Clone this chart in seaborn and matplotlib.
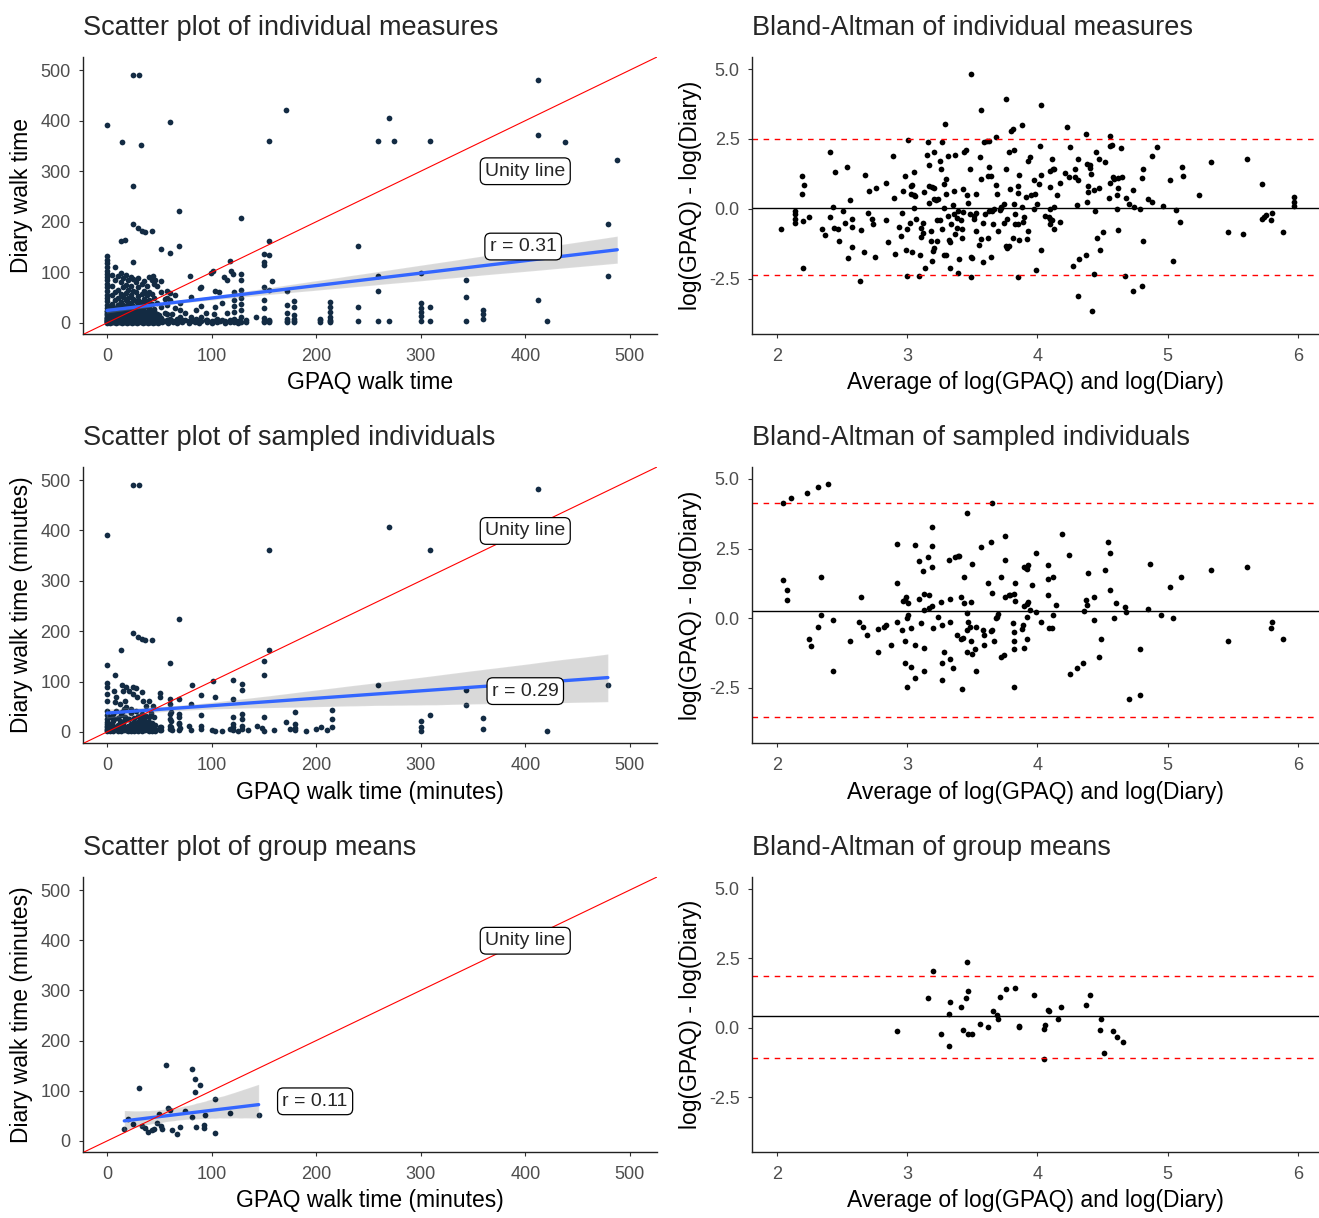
import pandas as pd
import matplotlib
matplotlib.use("Agg")
import matplotlib.pyplot as plt
import seaborn as sns
from matplotlib.ticker import FormatStrFormatter

sns.set_theme(style="ticks")
plt.rcParams['font.family'] = ['Liberation Sans', 'DejaVu Sans']
plt.rcParams['axes.unicode_minus'] = False

# =========================================================
# DATA
# =========================================================
# scatter: (GPAQ walk time, Diary walk time)
scat_ind = [
    (0, 392), (14, 357), (25, 490), (31, 490), (32, 351), (25, 271), (25, 196), (30, 187),
    (33, 182), (36, 180), (43, 182), (13, 162), (17, 164), (25, 121), (52, 147), (60, 138),
    (69, 153), (69, 221), (60, 398), (128, 207), (155, 360), (155, 162), (171, 421), (259, 360),
    (270, 406), (274, 360), (309, 360), (412, 481), (412, 371), (438, 357), (488, 323), (479, 196),
    (479, 92), (412, 46), (421, 3), (240, 153),
    (118, 122), (119, 102), (120, 96), (121, 61), (121, 45), (121, 34), (121, 22), (121, 8), (121, 1),
    (128, 96), (128, 84), (128, 66), (128, 50), (128, 38), (128, 25), (128, 12), (128, 2),
    (150, 137), (150, 120), (150, 114), (150, 71), (150, 45), (150, 30), (150, 1), (155, 135),
    (155, 66), (155, 3), (158, 82), (142, 11),
    (172, 64), (172, 36), (172, 20), (172, 3), (179, 44), (179, 31), (179, 16), (179, 3), (204, 8),
    (213, 41), (213, 31), (213, 21), (213, 11), (213, 3), (240, 32), (240, 3), (259, 92), (259, 63),
    (259, 3), (270, 3), (300, 98), (300, 40), (300, 30), (300, 22), (300, 13), (300, 3), (309, 32),
    (309, 3), (343, 84), (343, 52), (343, 3), (360, 26), (360, 17), (360, 7),
    (79, 92), (89, 69), (99, 99), (101, 102), (103, 64), (103, 32), (107, 61), (112, 91), (115, 84),
    (80, 52), (90, 71), (90, 33), (102, 18), (102, 3), (90, 12), (90, 3), (80, 12), (80, 3), (70, 40),
    (70, 25), (70, 12), (70, 3), (65, 55), (65, 30), (62, 18), (62, 3), (60, 60), (60, 45), (60, 8),
    (75, 20), (75, 5), (85, 25), (85, 8), (95, 20), (95, 5), (110, 5), (110, 40), (115, 20), (108, 3),
    (44, 92), (46, 85), (52, 82), (57, 64), (57, 50), (57, 35), (57, 18), (57, 6),
    (0, 132), (0, 125), (0, 118), (0, 110), (0, 103), (0, 96), (0, 90), (0, 84), (0, 77), (0, 70),
    (0, 63), (0, 56), (0, 50), (0, 43), (0, 36), (0, 30), (0, 23), (0, 17), (0, 10), (0, 4),
    (5, 95), (5, 72), (5, 55), (5, 38), (5, 22), (5, 8), (4, 2),
    (8, 110), (8, 84), (8, 61), (8, 45), (8, 30), (8, 15), (8, 1),
    (10, 92), (10, 66), (10, 50), (10, 35), (10, 20), (10, 5),
    (13, 98), (13, 80), (13, 58), (13, 42), (13, 27), (13, 12), (13, 2),
    (15, 88), (15, 70), (15, 52), (15, 36), (15, 18), (15, 6),
    (18, 94), (18, 75), (18, 60), (18, 45), (18, 30), (18, 14), (18, 1),
    (20, 84), (20, 66), (20, 50), (20, 34), (20, 22), (20, 9),
    (23, 90), (23, 72), (23, 56), (23, 40), (23, 26), (23, 12), (23, 3),
    (25, 86), (25, 64), (25, 48), (25, 30), (25, 18), (25, 5),
    (28, 80), (28, 62), (28, 44), (28, 28), (28, 14), (28, 2),
    (30, 88), (30, 70), (30, 54), (30, 38), (30, 24), (30, 8),
    (33, 76), (33, 58), (33, 42), (33, 26), (33, 12), (33, 1),
    (35, 82), (35, 64), (35, 48), (35, 32), (35, 18), (35, 5),
    (38, 72), (38, 55), (38, 40), (38, 22), (38, 10),
    (40, 90), (40, 62), (40, 46), (40, 30), (40, 15), (40, 2),
    (43, 84), (43, 58), (43, 38), (43, 20), (43, 6),
    (45, 76), (45, 50), (45, 28), (45, 12), (45, 1),
    (48, 72), (48, 40), (48, 18), (48, 3), (52, 62), (52, 32), (52, 10), (55, 48), (55, 20), (55, 3),
]

# the heavily overplotted low corner of the individual-measures scatter
scat_ind_low = [
    (0, 1), (0, 3), (0, 6), (0, 9), (0, 12), (0, 15), (0, 19), (0, 24),
    (2, 2), (2, 5), (2, 8), (2, 12), (2, 16), (2, 20), (2, 28),
    (5, 1), (5, 4), (5, 7), (5, 10), (5, 14), (5, 18), (5, 25), (5, 32),
    (7, 2), (7, 6), (7, 9), (7, 13), (7, 17), (7, 22),
    (10, 1), (10, 3), (10, 8), (10, 11), (10, 15), (10, 19), (10, 26), (10, 36),
    (12, 2), (12, 5), (12, 10), (12, 14), (12, 18), (12, 24),
    (15, 1), (15, 4), (15, 7), (15, 12), (15, 16), (15, 22), (15, 30),
    (17, 2), (17, 6), (17, 9), (17, 13), (17, 19), (17, 26),
    (20, 1), (20, 3), (20, 6), (20, 11), (20, 15), (20, 19), (20, 25), (20, 40),
    (22, 2), (22, 5), (22, 10), (22, 14), (22, 18), (22, 28),
    (25, 1), (25, 4), (25, 8), (25, 11), (25, 16), (25, 22), (25, 34),
    (27, 2), (27, 6), (27, 9), (27, 13), (27, 20), (27, 26),
    (30, 1), (30, 3), (30, 7), (30, 11), (30, 15), (30, 19), (30, 30), (30, 45),
    (32, 2), (32, 5), (32, 10), (32, 16), (32, 21),
    (35, 1), (35, 4), (35, 8), (35, 12), (35, 15), (35, 24), (35, 36),
    (37, 2), (37, 6), (37, 10), (37, 14), (37, 19),
    (40, 1), (40, 4), (40, 8), (40, 11), (40, 17), (40, 26),
    (42, 2), (42, 6), (42, 9), (42, 13), (42, 20),
    (45, 1), (45, 4), (45, 7), (45, 10), (45, 16), (45, 24),
    (47, 2), (47, 6), (47, 12), (47, 18), (50, 1), (50, 5), (50, 9), (50, 15),
]

# points sitting on the floor (diary close to zero), hidden under each other
scat_ind_floor = [
    (0, 0), (0, 2), (0, 5), (0, 8), (3, 0), (3, 3), (3, 6), (3, 10), (6, 1), (6, 4), (6, 7), (6, 11),
    (9, 0), (9, 2), (9, 6), (9, 9), (11, 1), (11, 3), (11, 5), (11, 8), (11, 12),
    (14, 0), (14, 2), (14, 4), (14, 7), (14, 10), (16, 1), (16, 3), (16, 6), (16, 9),
    (19, 0), (19, 2), (19, 5), (19, 8), (19, 11), (21, 1), (21, 4), (21, 7), (21, 10),
    (24, 0), (24, 2), (24, 3), (24, 6), (24, 9), (26, 1), (26, 4), (26, 7), (26, 12),
    (29, 0), (29, 2), (29, 5), (29, 8), (29, 10), (31, 1), (31, 3), (31, 6), (31, 9),
    (34, 0), (34, 2), (34, 4), (34, 7), (34, 11), (36, 1), (36, 3), (36, 5), (36, 8),
    (39, 0), (39, 2), (39, 6), (39, 9), (41, 1), (41, 4), (41, 7), (41, 10),
    (44, 0), (44, 2), (44, 5), (44, 8), (46, 1), (46, 3), (46, 6), (46, 11),
    (49, 0), (49, 2), (49, 4), (49, 7), (53, 1), (53, 3), (53, 6), (58, 0), (58, 2), (58, 5),
    (63, 1), (63, 4), (67, 0), (67, 3), (67, 7), (72, 1), (72, 5), (78, 0), (78, 4),
    (84, 1), (84, 6), (88, 0), (88, 3), (96, 1), (96, 5), (100, 0), (100, 4), (105, 1), (105, 7),
    (113, 0), (113, 3), (118, 1), (118, 5), (125, 0), (125, 4), (133, 2), (133, 6),
    (150, 4), (150, 9), (155, 1), (155, 6), (172, 1), (172, 8), (179, 1), (179, 7),
    (204, 2), (204, 5), (213, 1), (213, 6),
]

scat_samp = [
    (0, 390), (25, 490), (31, 490), (13, 163), (25, 197), (30, 189), (33, 184), (36, 182), (43, 183),
    (8, 114), (0, 132), (60, 137), (69, 224), (155, 361), (155, 163), (150, 140), (150, 114), (270, 407),
    (309, 361), (412, 482), (479, 93), (421, 2), (360, 28), (360, 5), (343, 84), (343, 54), (309, 33),
    (300, 22), (300, 10), (300, 2), (259, 93), (215, 43), (215, 26), (205, 9), (180, 39), (180, 15),
    (180, 3), (171, 20), (143, 12), (150, 30), (129, 96), (129, 84), (129, 36), (129, 26), (129, 12),
    (120, 103), (120, 66), (120, 30), (120, 16), (120, 3), (103, 69), (103, 2), (101, 102), (90, 74),
    (90, 33), (90, 12), (81, 93), (80, 56), (78, 12), (69, 65), (69, 36), (69, 18), (69, 3),
    (60, 66), (60, 56), (60, 36), (60, 26), (60, 12), (62, 3), (51, 78), (51, 70), (51, 10), (51, 3),
    (0, 97), (0, 89), (0, 75), (0, 62), (0, 42), (0, 34), (0, 26), (0, 16), (0, 9), (0, 3),
    (7, 82), (9, 70), (8, 59), (14, 93), (15, 82), (12, 56), (18, 89), (21, 82), (25, 89), (28, 87),
    (25, 75), (29, 70), (33, 79), (34, 62), (40, 62), (44, 52), (37, 52), (17, 62), (9, 42), (14, 39),
    (18, 49), (23, 46), (28, 42), (33, 36), (37, 32), (42, 37), (45, 29), (7, 26), (12, 22), (17, 29),
    (21, 26), (26, 19), (31, 22), (36, 16), (40, 19), (4, 13), (9, 9), (15, 13), (20, 8), (25, 13),
    (29, 6), (34, 9), (39, 4), (44, 9), (6, 3), (12, 3), (18, 3), (23, 3), (28, 3), (34, 3),
    (52, 9), (52, 3), (61, 40), (61, 22), (61, 9), (69, 30), (69, 15),
]

scat_samp_low = [
    (0, 1), (0, 5), (0, 12), (0, 20), (3, 2), (3, 8), (3, 15), (3, 30),
    (6, 1), (6, 6), (6, 11), (6, 22), (6, 35), (10, 2), (10, 5), (10, 14), (10, 28),
    (13, 1), (13, 7), (13, 18), (13, 33), (16, 3), (16, 9), (16, 21), (16, 45),
    (20, 1), (20, 5), (20, 12), (20, 25), (23, 2), (23, 8), (23, 16), (23, 38),
    (26, 1), (26, 6), (26, 13), (26, 28), (30, 2), (30, 9), (30, 19), (30, 32),
    (33, 1), (33, 5), (33, 15), (33, 26), (36, 3), (36, 8), (36, 22),
    (40, 1), (40, 6), (40, 12), (40, 30), (43, 2), (43, 9), (43, 18), (46, 1), (46, 5), (46, 14),
]

# overplotted floor points at mid GPAQ values in the sampled scatter
scat_samp_mid = [
    (118, 6), (120, 9), (125, 2), (129, 5), (135, 3), (148, 8), (150, 2), (160, 4), (175, 6),
    (180, 8), (190, 2), (200, 5), (210, 3), (215, 10), (60, 5), (70, 8), (80, 3), (90, 6),
    (100, 4), (110, 2),
]

scat_grp = [
    (16.5, 24), (20, 44), (25, 34), (31, 105), (33, 30), (36, 26), (39, 18), (43, 22), (45, 24),
    (48, 36), (50, 53), (52, 30), (53, 24), (56, 152), (58, 65), (60, 61), (62, 22), (67, 13),
    (70, 28), (75, 59), (81, 48), (81, 143), (84, 124), (85, 28), (89, 111), (84, 98), (93, 31),
    (94, 51), (93, 26), (103, 84), (103, 15), (118, 56), (145, 51),
]

# Bland-Altman: (average of logs, difference of logs)
ba_ind = [
    (2.03, -0.73), (2.14, -0.07), (2.14, -0.19), (2.14, -0.37), (2.14, -0.52), (2.19, 1.16),
    (2.21, 0.85), (2.19, 0.52), (2.20, -0.43), (2.20, -2.13), (2.25, -0.31), (2.35, -0.73),
    (2.37, -0.94), (2.41, 2.04), (2.41, -0.31), (2.43, 0.08), (2.45, 1.31), (2.44, -0.67),
    (2.47, -0.73), (2.48, -1.14), (2.51, -0.07), (2.52, -0.52), (2.54, 1.48), (2.56, 0.32),
    (2.55, -1.76), (2.58, -0.36), (2.58, -0.64), (2.58, -1.35), (2.64, -2.60), (2.65, -0.77),
    (2.67, -1.56), (2.68, 1.21), (2.70, -0.14), (2.71, 0.62), (2.73, -0.35), (2.74, -0.56),
    (2.75, -1.73), (2.76, 0.73), (2.84, 0.91), (2.84, -0.41), (2.85, -1.19), (2.89, 1.88),
    (2.90, 0.37), (2.91, -1.62), (2.94, -0.64), (2.95, -0.98), (2.96, -0.14), (2.97, 0.65),
    (2.98, 1.16), (2.99, -1.47), (3.00, -0.71), (3.00, -2.41), (3.01, 2.46), (3.02, -0.52),
    (3.03, 0.54), (3.03, 0.81), (3.04, 0.84), (3.05, 0.50), (3.05, 1.30), (3.05, 0.02),
    (3.06, 0.45), (3.04, -1.56), (3.07, -0.36), (3.09, -2.40), (3.10, -1.67), (3.11, -0.67),
    (3.12, -0.50), (3.12, -0.87), (3.11, -1.00), (3.13, 0.59), (3.14, -2.13), (3.15, 1.94),
    (3.16, 2.38), (3.17, 0.21), (3.17, 1.57), (3.17, 0.80), (3.18, -0.79), (3.18, -1.14),
    (3.19, -1.86), (3.19, 0.78), (3.20, -1.51), (3.21, -1.40), (3.21, 0.35), (3.21, 2.02),
    (3.21, 0.76), (3.22, 0.31), (3.23, -0.41), (3.23, -1.15), (3.24, 0.35), (3.25, -0.41),
    (3.25, 1.72), (3.26, 1.42), (3.27, -0.73), (3.28, 0.88), (3.27, 2.40), (3.28, 0.02),
    (3.28, -1.65), (3.29, 3.04), (3.30, 1.06), (3.30, 0.53), (3.31, -0.27), (3.30, -1.64),
    (3.31, 1.88), (3.32, -1.13), (3.33, -2.13), (3.33, -1.20), (3.34, -0.55), (3.35, 0.15),
    (3.36, -0.17), (3.36, 0.62), (3.37, -0.91), (3.37, 1.94), (3.38, -0.70), (3.38, -0.34),
    (3.39, -2.29), (3.39, -0.07), (3.40, -1.78), (3.41, -0.41), (3.42, -1.03), (3.42, -0.73),
    (3.43, -0.12), (3.43, 0.70), (3.44, 2.02), (3.45, 2.10), (3.46, 0.50), (3.47, 0.19),
    (3.48, 1.42), (3.48, -0.19), (3.49, -2.43), (3.49, 4.83), (3.49, -1.73), (3.50, -1.75),
    (3.51, -0.38), (3.51, -0.25), (3.53, 0.53), (3.53, -0.79), (3.53, -0.16), (3.55, -1.28),
    (3.56, 1.84), (3.57, 3.55), (3.57, -1.09), (3.57, 1.06), (3.58, -1.89), (3.58, -0.50),
    (3.59, 2.39), (3.60, -0.17), (3.61, 2.44), (3.62, 1.18), (3.62, -1.03), (3.63, 2.44),
    (3.63, 1.48), (3.63, -0.07), (3.64, 1.18), (3.64, -1.73), (3.65, -0.07), (3.66, -0.55),
    (3.67, 0.00), (3.68, 0.84), (3.68, 2.56), (3.69, 0.53), (3.70, -0.79), (3.71, -0.05),
    (3.72, 0.02), (3.72, 0.07), (3.74, -0.52), (3.74, 0.17), (3.76, 3.94), (3.76, 1.42),
    (3.76, -1.33), (3.77, -1.39), (3.78, -1.33), (3.77, -0.37), (3.78, 2.04), (3.79, 0.70),
    (3.80, 2.80), (3.81, 2.86), (3.81, -1.03), (3.82, 0.17), (3.82, 2.10), (3.83, -0.53),
    (3.83, -0.17), (3.85, 0.83), (3.85, 0.55), (3.85, -0.53), (3.85, -2.45), (3.86, -1.13),
    (3.86, 1.21), (3.88, 0.05), (3.88, 2.98), (3.89, -0.49), (3.90, -0.29), (3.91, 0.41),
    (3.93, -0.79), (3.92, -1.09), (3.93, 1.72), (3.94, 1.84), (3.95, 0.50), (3.97, 0.00),
    (3.97, 1.04), (3.98, 0.53), (3.99, -2.18), (4.00, 0.17), (4.02, 2.26), (4.03, -1.48),
    (4.03, 3.72), (4.03, 1.20), (4.01, 0.88), (4.06, -0.25), (4.10, 0.79), (4.10, 1.36),
    (4.11, 1.78), (4.12, 1.42), (4.13, 1.42), (4.10, 0.00), (4.13, 0.07), (4.09, -0.31),
    (4.10, -0.35), (4.11, -0.40), (4.10, -0.55), (4.13, -0.73), (4.15, 0.49), (4.17, 0.94),
    (4.17, -0.46), (4.21, 1.27), (4.23, 2.94), (4.24, 1.12), (4.25, 2.20), (4.27, -2.03),
    (4.29, 1.42), (4.29, 1.12), (4.31, 1.78), (4.31, 1.03), (4.30, 0.12), (4.31, -3.13),
    (4.32, -1.81), (4.37, 2.68), (4.37, -1.65), (4.38, 1.60), (4.40, 1.58), (4.40, 1.46),
    (4.41, 1.24), (4.39, 0.82), (4.39, 0.59), (4.38, 0.26), (4.44, -0.07), (4.42, -3.64),
    (4.43, -2.32), (4.43, 0.68), (4.45, 2.04), (4.46, -1.03), (4.47, 1.78), (4.47, 0.73),
    (4.48, -1.46), (4.50, -0.83), (4.52, 1.68), (4.56, 2.62), (4.55, 0.38), (4.56, 2.26),
    (4.57, 2.29), (4.56, 0.92), (4.58, 1.12), (4.59, 1.08), (4.61, 0.50), (4.62, 0.74),
    (4.61, 0.00), (4.62, -0.77), (4.62, 1.10), (4.64, 2.16), (4.65, 1.12), (4.67, -2.40),
    (4.68, 0.38), (4.70, 0.17), (4.73, -2.93), (4.73, 0.68), (4.74, 0.05), (4.79, 0.00),
    (4.80, 1.10), (4.80, -2.77), (4.81, 1.42), (4.81, -1.15), (4.85, 0.35), (4.88, 0.26),
    (4.88, 1.88), (4.92, 2.20), (4.96, 0.10), (5.02, 1.04), (5.04, -1.87), (5.06, -0.05),
    (5.09, -0.46), (5.11, 1.48), (5.12, 1.16), (5.24, 0.48), (5.33, 1.68), (5.46, -0.83),
    (5.58, -0.89), (5.61, 1.78), (5.72, 0.88), (5.72, -0.37), (5.74, -0.29), (5.75, -0.23),
    (5.79, -0.41), (5.80, -0.16), (5.88, -0.83), (5.97, 0.10), (5.97, 0.25), (5.97, 0.43),
]

ba_samp = [
    (2.05, 4.13), (2.11, 4.30), (2.23, 4.50), (2.32, 4.70), (2.39, 4.82), (2.05, 1.38), (2.08, 1.01),
    (2.08, 0.64), (2.34, 1.48), (2.34, 0.12), (2.32, -0.30), (2.25, -0.75), (2.26, -0.98),
    (2.43, -0.08), (2.43, -1.91), (2.56, -0.81), (2.63, -0.13), (2.65, 0.75), (2.66, -0.30),
    (2.69, -0.61), (2.78, -1.23), (2.78, -0.39), (2.82, -0.30), (2.84, -0.25), (2.88, -0.97),
    (2.92, 2.67), (2.92, 1.28), (2.92, -0.13), (2.96, -0.44), (2.97, 0.61), (2.98, -0.81),
    (2.98, -1.59), (2.98, 0.66), (2.99, 0.75), (3.01, 0.53), (3.00, 0.02), (3.00, -2.47),
    (3.01, 0.10), (3.03, -1.75), (3.03, -0.36), (3.06, -0.97), (3.06, -2.16), (3.06, 2.63),
    (3.09, 2.04), (3.09, 0.69), (3.11, -0.18), (3.12, 1.68), (3.13, 0.30), (3.13, -1.07),
    (3.13, -1.91), (3.13, 0.86), (3.16, 2.21), (3.17, 0.82), (3.17, 0.37), (3.19, 3.26),
    (3.19, 2.58), (3.19, 1.85), (3.20, -0.35), (3.19, 0.44), (3.24, 0.06), (3.26, 0.60),
    (3.27, -0.25), (3.27, -1.60), (3.27, -2.22), (3.28, -1.23), (3.32, 2.09), (3.33, 0.69),
    (3.33, -0.13), (3.33, -1.48), (3.35, -1.77), (3.37, 2.20), (3.38, -0.61), (3.39, 2.23),
    (3.40, 2.24), (3.41, 0.75), (3.41, -0.75), (3.43, -0.70), (3.42, -2.53), (3.44, 1.48),
    (3.44, 0.55), (3.46, -0.41), (3.46, 0.20), (3.46, 3.77), (3.47, -0.14), (3.48, -0.33),
    (3.49, 0.58), (3.49, -0.81), (3.46, -1.22), (3.50, -1.29), (3.50, 1.95), (3.53, -0.30),
    (3.53, -1.91), (3.52, -1.09), (3.57, 2.57), (3.58, -0.41), (3.59, -0.62), (3.59, -0.97),
    (3.62, 1.28), (3.64, 2.72), (3.64, -0.47), (3.65, 0.91), (3.65, -0.44), (3.65, 4.13),
    (3.67, -0.81), (3.68, 0.01), (3.69, 0.05), (3.70, 0.14), (3.72, -1.38), (3.74, -1.32),
    (3.75, 2.94), (3.75, 2.10), (3.72, 1.48), (3.75, 0.75), (3.78, 0.84), (3.79, 0.85),
    (3.82, 0.86), (3.83, 0.61), (3.83, 1.28), (3.81, -0.18), (3.82, -0.49), (3.82, -0.81),
    (3.82, -1.09), (3.82, -2.47), (3.89, -0.23), (3.88, -0.38), (3.90, 1.85), (3.91, 1.81),
    (3.92, 1.77), (3.93, 1.90), (3.96, 1.18), (3.90, -1.07), (3.92, -0.76), (3.90, 0.44),
    (3.92, 0.51), (3.93, 0.57), (3.94, 0.31), (3.92, 0.04), (3.99, 0.24), (3.99, 2.36),
    (4.03, -0.13), (4.08, 1.90), (4.08, 1.42), (4.12, 1.48), (4.08, 0.85), (4.14, 0.49),
    (4.12, 0.12), (4.09, -0.35), (4.11, -0.35), (4.19, 3.04), (4.24, 2.27), (4.25, -2.02),
    (4.30, -1.80), (4.35, -1.60), (4.36, 0.27), (4.37, 0.64), (4.38, 0.49), (4.39, 1.63),
    (4.43, 0.75), (4.43, -0.08), (4.47, -1.38), (4.49, -0.75), (4.52, 1.74), (4.54, 2.72),
    (4.56, 2.36), (4.56, 1.01), (4.59, 0.01), (4.60, 0.54), (4.67, 0.39), (4.68, 0.23),
    (4.70, -2.90), (4.79, -2.74), (4.79, -1.12), (4.85, 0.33), (4.86, 1.96), (4.95, 0.12),
    (5.02, 1.11), (5.04, 0.01), (5.10, 1.48), (5.33, 1.74), (5.46, -0.81), (5.61, 1.84),
    (5.79, -0.35), (5.80, -0.14), (5.88, -0.75),
]

ba_grp = [
    (2.92, -0.13), (3.16, 1.06), (3.20, 2.06), (3.26, -0.23), (3.32, 0.50), (3.33, 0.91),
    (3.32, -0.67), (3.41, 0.75), (3.43, -0.08), (3.45, 1.06), (3.46, 2.37), (3.47, 1.33),
    (3.47, -0.23), (3.50, -0.23), (3.56, 0.13), (3.62, 0.02), (3.66, 0.61), (3.69, 0.44),
    (3.70, 0.32), (3.71, 1.11), (3.76, 1.39), (3.83, 1.42), (3.86, 0.07), (3.86, 0.02),
    (3.97, 1.17), (4.05, -1.12), (4.05, -0.05), (4.06, 0.10), (4.08, 0.65), (4.09, 0.59),
    (4.16, 0.33), (4.18, 0.75), (4.37, 0.80), (4.40, 1.17), (4.48, -0.08), (4.49, 0.32),
    (4.51, -0.91), (4.58, -0.13), (4.61, -0.33), (4.66, -0.50),
]

# mean difference and limits of agreement per panel
ba_mean = [0.03, 0.25, 0.43]
ba_upper = [2.50, 4.12, 1.87]
ba_lower = [-2.37, -3.54, -1.10]

r_labels = ["r = 0.31", "r = 0.29", "r = 0.11"]

scatter_titles = ["Scatter plot of individual measures", "Scatter plot of sampled individuals",
                  "Scatter plot of group means"]
ba_titles = ["Bland-Altman of individual measures", "Bland-Altman of sampled individuals",
             "Bland-Altman of group means"]
scatter_xlabels = ["GPAQ walk time", "GPAQ walk time (minutes)", "GPAQ walk time (minutes)"]
scatter_ylabels = ["Diary walk time", "Diary walk time (minutes)", "Diary walk time (minutes)"]

# =========================================================
# LAYOUT
# =========================================================
W, H = 1319, 1218
ROWS = [(57, 334), (467, 743), (877, 1152)]
TITLE_Y = [28, 438, 848]
LEFT = (83, 657)
RIGHT = (752, 1319)

r_pos = [(398, 151), (400, 81), (199, 79)]
unity_pos = [(400, 300), (400, 399), (400, 399)]
band_ci = [60, 70, 95]

TICK_GREY = "#4D4D4D"
DOT = "#132B43"
BLUE = "#3366FF"


def axes_box(cols, rows):
    l, r = cols
    t, b = rows
    return [l / W, 1 - b / H, (r - l) / W, (b - t) / H]


def style(ax):
    sns.despine(ax=ax)
    for s in ["left", "bottom"]:
        ax.spines[s].set_color("#222222")
        ax.spines[s].set_linewidth(1.0)
    ax.tick_params(axis="both", colors="#333333", labelcolor=TICK_GREY,
                   labelsize=13, length=3, width=0.8)
    ax.tick_params(axis="x", pad=7)
    ax.tick_params(axis="y", pad=6)


def label_box(ax, x, y, text):
    ax.text(x, y, text, ha="center", va="center", fontsize=14, zorder=6,
            bbox=dict(boxstyle="round,pad=0.25,rounding_size=0.3",
                      fc="white", ec="black", lw=0.9))


def scatter_panel(ax, pts, i):
    df = pd.DataFrame(pts, columns=["gpaq", "diary"])
    sns.scatterplot(data=df, x="gpaq", y="diary", ax=ax, color=DOT, s=17,
                    linewidth=0, legend=False)
    # grey confidence band, then the blue fit line
    sns.regplot(data=df, x="gpaq", y="diary", ax=ax, scatter=False, color="black",
                ci=band_ci[i], line_kws={"lw": 0}, seed=3)
    sns.regplot(data=df, x="gpaq", y="diary", ax=ax, scatter=False, ci=None,
                color=BLUE, line_kws={"lw": 2.4})
    ax.axline((0, 0), slope=1, color="red", lw=0.8, zorder=4)
    ax.set_xlim(-23, 526)
    ax.set_ylim(-22, 526)
    ax.set_xticks(range(0, 501, 100))
    ax.set_yticks(range(0, 501, 100))
    label_box(ax, *unity_pos[i], "Unity line")
    label_box(ax, *r_pos[i], r_labels[i])


def ba_panel(ax, pts, i):
    df = pd.DataFrame(pts, columns=["avg", "diff"])
    sns.scatterplot(data=df, x="avg", y="diff", ax=ax, color="black", s=17,
                    linewidth=0, legend=False)
    ax.axhline(ba_mean[i], color="black", lw=1.0)
    ax.axhline(ba_upper[i], color="red", lw=1.0, ls=(0, (4, 4)))
    ax.axhline(ba_lower[i], color="red", lw=1.0, ls=(0, (4, 4)))
    ax.set_xlim(1.81, 6.16)
    ax.set_ylim(-4.48, 5.43)
    ax.set_xticks([2, 3, 4, 5, 6])
    ax.set_yticks([-2.5, 0.0, 2.5, 5.0])
    ax.yaxis.set_major_formatter(FormatStrFormatter("%.1f"))


fig = plt.figure(figsize=(W / 100, H / 100), dpi=100)

ba_sets = [ba_ind, ba_samp, ba_grp]
scat_sets = [scat_ind + scat_ind_low + scat_ind_floor,
             scat_samp + scat_samp_low + scat_samp_mid,
             scat_grp]

for i in range(3):
    t, b = ROWS[i]
    h = b - t

    ax = fig.add_axes(axes_box(LEFT, ROWS[i]))
    scatter_panel(ax, scat_sets[i], i)
    style(ax)
    w = LEFT[1] - LEFT[0]
    ax.set_xlabel(scatter_xlabels[i], fontsize=16.5, color="black", va="center")
    ax.xaxis.set_label_coords(0.5, -(383 - 334) / h)
    ax.set_ylabel(scatter_ylabels[i], fontsize=16.5, color="black", va="center")
    ax.yaxis.set_label_coords(-(83 - 22) / w, 0.5)
    fig.text(LEFT[0] / W, 1 - TITLE_Y[i] / H, scatter_titles[i], fontsize=19.5,
             ha="left", va="center")

    ax2 = fig.add_axes(axes_box(RIGHT, ROWS[i]))
    ba_panel(ax2, ba_sets[i], i)
    style(ax2)
    w2 = RIGHT[1] - RIGHT[0]
    ax2.set_xlabel("Average of log(GPAQ) and log(Diary)", fontsize=16.5, color="black",
                   va="center")
    ax2.xaxis.set_label_coords(0.5, -(383 - 334) / h)
    ax2.set_ylabel("log(GPAQ) - log(Diary)", fontsize=16.5, color="black", va="center")
    ax2.yaxis.set_label_coords(-(752 - 691) / w2, 0.5)
    fig.text(RIGHT[0] / W, 1 - TITLE_Y[i] / H, ba_titles[i], fontsize=19.5,
             ha="left", va="center")

fig.savefig("out.png", dpi=100, facecolor="white")
